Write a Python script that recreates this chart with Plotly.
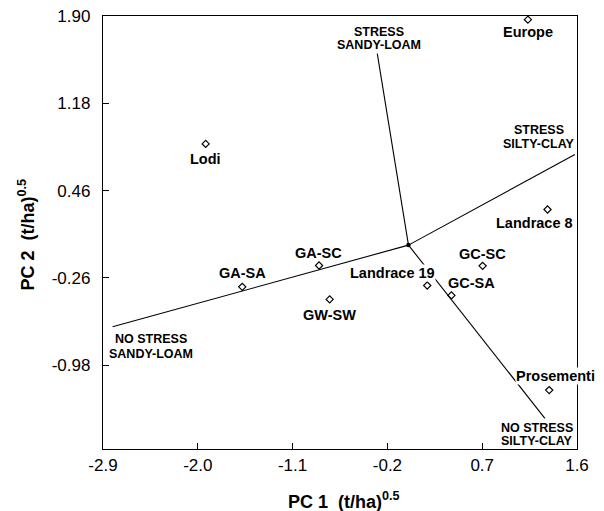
import plotly.graph_objects as go

# ---- data ----
genotypes = ["Lodi", "Europe", "Landrace 8", "GA-SA", "GA-SC", "GW-SW",
             "Landrace 19", "GC-SA", "GC-SC", "Prosementi"]
pc1 = [-1.925, 1.134, 1.32, -1.578, -0.849, -0.748, 0.178, 0.408, 0.704, 1.336]
pc2 = [0.845, 1.87, 0.304, -0.334, -0.158, -0.438, -0.323, -0.405, -0.161, -1.186]

center_x = [0.0]
center_y = [0.01]
env_line1 = ["STRESS", "STRESS", "NO STRESS", "NO STRESS"]
env_line2 = ["SANDY-LOAM", "SILTY-CLAY", "SANDY-LOAM", "SILTY-CLAY"]
env_x = [-0.296, 1.58, -2.809, 1.295]
env_y = [1.59, 0.757, -0.664, -1.419]

xticks = [-2.9, -2.0, -1.1, -0.2, 0.7, 1.6]
xtick_text = ["-2.9", "-2.0", "-1.1", "-0.2", "0.7", "1.6"]
yticks = [1.90, 1.18, 0.46, -0.26, -0.98]
ytick_text = ["1.90", "1.18", "0.46", "-0.26", "-0.98"]

# ---- label placement (pixel offsets, styling only) ----
label_offsets = {
    "Lodi": (0, -15.3), "Europe": (0, -12.4), "Landrace 8": (-13.3, -13.4),
    "GA-SA": (0, 13.4), "GA-SC": (-1, 12), "GW-SW": (0, -15.7),
    "Landrace 19": (-34.7, 12.6), "GC-SA": (20, 12), "GC-SC": (0, 11.7),
    "Prosementi": (6, 14),
}
# (dx, dy line1, dy line2)
env_offsets = [(2, 21.6, 8.3), (-35.7, 24.3, 10.3), (38.5, -12.6, -27.3), (-7.4, -10, -22.7)]

FONT = "Liberation Sans, Arial, Helvetica, sans-serif"

fig = go.Figure()

for ex, ey in zip(env_x, env_y):
    fig.add_trace(go.Scatter(x=[center_x[0], ex], y=[center_y[0], ey], mode="lines",
                             line=dict(color="black", width=1.1),
                             showlegend=False, hoverinfo="skip"))

fig.add_trace(go.Scatter(x=center_x, y=center_y, mode="markers",
                         marker=dict(color="black", size=4.5),
                         showlegend=False, hoverinfo="skip"))

fig.add_trace(go.Scatter(x=pc1, y=pc2, mode="markers", text=genotypes,
                         marker=dict(symbol="diamond-open", size=5.5,
                                     color="black", line=dict(width=1.2)),
                         showlegend=False))

annotations = []
for name, x, y in zip(genotypes, pc1, pc2):
    dx, dy = label_offsets[name]
    ann = dict(x=x, y=y, xref="x", yref="y", text=f"<b>{name}</b>",
               showarrow=False, xshift=dx, yshift=dy,
               font=dict(family=FONT, size=14.5, color="black"), borderpad=0)
    if name in ("Landrace 19", "Prosementi"):
        ann["bgcolor"] = "white"
    annotations.append(ann)
for l1, l2, x, y, (dx, dy1, dy2) in zip(env_line1, env_line2, env_x, env_y, env_offsets):
    for txt, dy in ((l1, dy1), (l2, dy2)):
        annotations.append(dict(x=x, y=y, xref="x", yref="y", text=f"<b>{txt}</b>",
                                showarrow=False, xshift=dx, yshift=dy,
                                font=dict(family=FONT, size=12.5, color="black"),
                                borderpad=0))

annotations.append(dict(x=0.5, y=0, xref="paper", yref="paper", yanchor="middle",
                        text="<b>PC 1&nbsp;&nbsp;(t/ha)<sup>0.5</sup></b>", showarrow=False,
                        font=dict(family=FONT, size=18, color="black"),
                        xshift=4, yshift=-51))
annotations.append(dict(x=0, y=0.5, xref="paper", yref="paper", xanchor="center",
                        text="<b>PC 2&nbsp;&nbsp;(t/ha)<sup>0.5</sup></b>", showarrow=False,
                        textangle=-90, xshift=-76, yshift=-2,
                        font=dict(family=FONT, size=18, color="black")))

fig.update_layout(
    width=596, height=503,
    margin=dict(l=95, r=27, t=8, b=62, autoexpand=False),
    paper_bgcolor="white", plot_bgcolor="white",
    annotations=annotations,
    font=dict(family=FONT, size=17, color="black"),
)
fig.update_xaxes(range=[-2.9, 1.6], tickvals=xticks, ticktext=xtick_text,
                 ticks="inside", ticklen=6, tickcolor="black", tickwidth=1,
                 showline=True, linecolor="black", linewidth=1.3, mirror=True,
                 showgrid=False, zeroline=False, ticklabelstandoff=0,
                 ticklabeloverflow="allow", automargin=False,
                 tickfont=dict(family=FONT, size=17, color="black"))
fig.update_yaxes(range=[-1.672, 1.90], tickvals=yticks, ticktext=ytick_text,
                 ticks="inside", ticklen=6, tickcolor="black", tickwidth=1,
                 showline=True, linecolor="black", linewidth=1.3, mirror=True,
                 showgrid=False, zeroline=False, ticklabelstandoff=8,
                 ticklabeloverflow="allow", automargin=False,
                 tickfont=dict(family=FONT, size=17, color="black"))

fig.write_html("out.html")
